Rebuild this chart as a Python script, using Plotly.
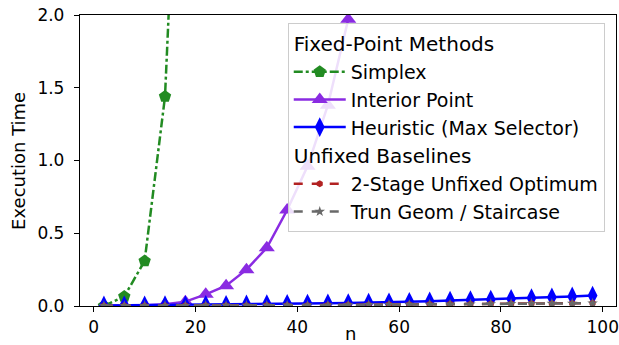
import plotly.graph_objects as go

n_simplex = [2, 6, 10, 14, 18]
simplex = [0.0, 0.065, 0.31, 1.44, 4.6]

n_all = [2, 6, 10, 14, 18, 22, 26, 30, 34, 38, 42, 46, 50, 54]
interior = [0.0, 0.002, 0.005, 0.012, 0.03, 0.08, 0.14, 0.25, 0.40, 0.66, 0.96, 1.38, 1.97, 2.8]

n_full = [2, 6, 10, 14, 18, 22, 26, 30, 34, 38, 42, 46, 50, 54, 58, 62, 66, 70, 74, 78, 82, 86, 90, 94, 98]
heuristic = [0.004, 0.005, 0.005, 0.006, 0.007, 0.008, 0.009, 0.011, 0.013, 0.015, 0.017, 0.019, 0.021,
             0.023, 0.026, 0.029, 0.033, 0.037, 0.041, 0.045, 0.05, 0.055, 0.06, 0.066, 0.072]
unfixed = [0.001, 0.001, 0.002, 0.002, 0.003, 0.003, 0.004, 0.004, 0.005, 0.006, 0.006, 0.007, 0.008,
           0.009, 0.010, 0.011, 0.012, 0.013, 0.014, 0.015, 0.016, 0.017, 0.018, 0.019, 0.020]
staircase = [0.001, 0.001, 0.002, 0.002, 0.002, 0.003, 0.003, 0.004, 0.004, 0.005, 0.005, 0.006, 0.007,
             0.008, 0.009, 0.010, 0.011, 0.012, 0.013, 0.014, 0.015, 0.016, 0.017, 0.018, 0.019]

x_ticks = [0, 20, 40, 60, 80, 100]
y_ticks = [0, 0.5, 1.0, 1.5, 2.0]

FONT = "DejaVu Sans"
fig = go.Figure()

fig.add_trace(go.Scatter(x=n_simplex, y=simplex, name="Simplex", mode="lines+markers",
                         line=dict(color="#228B22", width=2.5, dash="dashdot"),
                         marker=dict(symbol="pentagon", size=13, color="#228B22"),
                         legendgroup="fixed", legendgrouptitle_text="Fixed-Point Methods"))
fig.add_trace(go.Scatter(x=n_all, y=interior, name="Interior Point", mode="lines+markers",
                         line=dict(color="#8A2BE2", width=2.5),
                         marker=dict(symbol="triangle-up", size=14, color="#8A2BE2"),
                         legendgroup="fixed"))
fig.add_trace(go.Scatter(x=n_full, y=heuristic, name="Heuristic (Max Selector)", mode="lines+markers",
                         line=dict(color="#0000FF", width=2.5),
                         marker=dict(symbol="diamond-tall", size=14, color="#0000FF"),
                         legendgroup="fixed"))
fig.add_trace(go.Scatter(x=n_full, y=unfixed, name="2-Stage Unfixed Optimum", mode="lines+markers",
                         line=dict(color="#B22222", width=2.5, dash="dash"),
                         marker=dict(symbol="hexagon", size=7, color="#B22222"),
                         legendgroup="unfixed", legendgrouptitle_text="Unfixed Baselines"))
fig.add_trace(go.Scatter(x=n_full, y=staircase, name="Trun Geom / Staircase", mode="lines+markers",
                         line=dict(color="#696969", width=2.5, dash="dash"),
                         marker=dict(symbol="star", size=8, color="#696969"),
                         legendgroup="unfixed"))

axis_common = dict(showline=True, mirror=True, linecolor="black", linewidth=1.3, automargin=False,
                   ticks="outside", ticklen=5, tickcolor="black", showgrid=False, zeroline=False,
                   tickfont=dict(family=FONT, size=17, color="black"))

fig.update_layout(
    width=619, height=345,
    margin=dict(l=80, r=3, t=15, b=39),
    plot_bgcolor="white", paper_bgcolor="white",
    font=dict(family=FONT, color="black"),
    xaxis=dict(range=[-2.7, 102.6], tickvals=x_ticks, **axis_common),
    yaxis=dict(range=[0, 2.0], tickvals=y_ticks, tickformat=".1f", ticklabelstandoff=6, **axis_common),
    legend=dict(x=0.979, y=0.973, xanchor="right", yanchor="top",
                bgcolor="rgba(255,255,255,0.85)", bordercolor="#cccccc", borderwidth=1,
                font=dict(family=FONT, size=19), tracegroupgap=0, traceorder="grouped",
                grouptitlefont=dict(family=FONT, size=20), itemwidth=52),
    showlegend=True,
    annotations=[
        dict(text="n", xref="paper", yref="paper", x=0.505, y=-0.093, xanchor="center", yanchor="middle",
             showarrow=False, font=dict(family=FONT, size=18, color="black")),
        dict(text="Execution Time", xref="paper", yref="paper", x=-0.116, y=0.498, xanchor="center",
             yanchor="middle", textangle=-90, showarrow=False, font=dict(family=FONT, size=18, color="black")),
    ],
)

fig.write_html("out.html", config={"displayModeBar": False},
               post_script="document.body.style.margin='0';document.body.style.padding='0';")
